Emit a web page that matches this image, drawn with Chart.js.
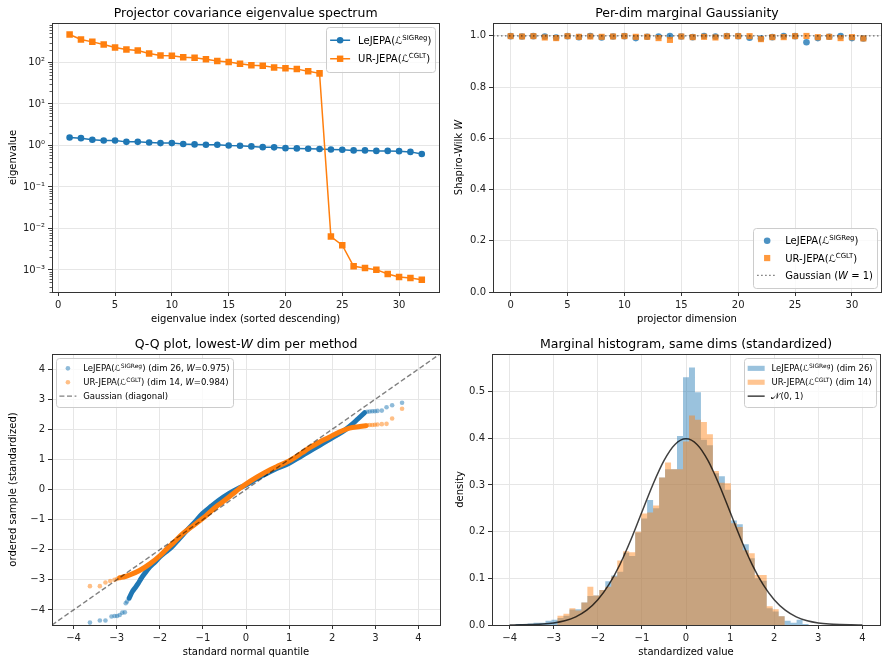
<!DOCTYPE html>
<html>
<head>
<meta charset="utf-8">
<title>Projector covariance diagnostics</title>
<script src="https://cdn.jsdelivr.net/npm/chart.js@4.4.1/dist/chart.umd.min.js"></script>
<style>
  html, body { margin:0; padding:0; background:#ffffff; }
  #fig { position:relative; width:888px; height:663px; overflow:hidden; background:#fff; }
  #fig canvas { position:absolute; }
</style>
</head>
<body>
<div id="fig">
  <canvas id="cEig" width="444" height="331" style="left:0px;top:0px;width:444px;height:331px"></canvas>
  <canvas id="cW" width="444" height="331" style="left:444px;top:0px;width:444px;height:331px"></canvas>
  <canvas id="cQQ" width="444" height="332" style="left:0px;top:331px;width:444px;height:332px"></canvas>
  <canvas id="cHist" width="444" height="332" style="left:444px;top:331px;width:444px;height:332px"></canvas>
</div>
<script>
// ================= DATA =================
// Panel 1: eigenvalue spectrum
const EIG_INDEX = [1,2,3,4,5,6,7,8,9,10,11,12,13,14,15,16,17,18,19,20,21,22,23,24,25,26,27,28,29,30,31,32];
const EIG_LEJEPA = [1.56,1.50,1.37,1.32,1.32,1.22,1.22,1.18,1.14,1.14,1.08,1.06,1.04,1.04,1.00,0.98,
                    0.95,0.91,0.90,0.86,0.85,0.83,0.82,0.80,0.79,0.76,0.76,0.74,0.74,0.73,0.70,0.62];
const EIG_URJEPA = [470,356,313,270,229,205,194,164,147,145,134,129,120,108,102,93,
                    86,83,76,72,69,61,54.5,0.0064,0.00395,0.00123,0.00112,0.00102,0.0008,0.00068,0.00064,0.00058];
const EIG_X_TICKS = [0,5,10,15,20,25,30];
const EIG_Y_TICKS = [1e-3,1e-2,1e-1,1,10,100];
const EIG_Y_LABELS = ['10\u207B\u00B3','10\u207B\u00B2','10\u207B\u00B9','10\u2070','10\u00B9','10\u00B2'];

// Panel 2: per-dim Shapiro-Wilk W
const DIMS = [0,1,2,3,4,5,6,7,8,9,10,11,12,13,14,15,16,17,18,19,20,21,22,23,24,25,26,27,28,29,30,31];
const W_LEJEPA = [0.9987,0.9974,0.9987,0.9974,0.9935,0.9987,0.9948,0.9995,0.9935,0.9974,0.9987,0.9910,0.9961,0.9974,0.9995,0.9974,
                  0.9948,0.9995,0.9974,0.9987,0.9987,0.9923,0.9897,0.9948,0.9995,0.9987,0.9750,0.9910,0.9961,0.9987,0.9910,0.9897];
const W_URJEPA = [0.9987,0.9974,0.9987,0.9935,0.9910,0.9987,0.9961,0.9974,0.9961,0.9974,0.9987,0.9961,0.9961,0.9910,0.9840,0.9974,
                  0.9948,0.9961,0.9935,0.9987,0.9987,0.9987,0.9870,0.9948,0.9948,0.9987,0.9995,0.9948,0.9961,0.9910,0.9948,0.9897];
const W_REF_X = [-1.55, 32.55];
const W_REF_Y = [1, 1];
const DIM_X_TICKS = [0,5,10,15,20,25,30];
const W_Y_TICKS = [0,0.2,0.4,0.6,0.8,1.0];

// Panel 3: Q-Q plot (theoretical quantile, ordered sample)
const QQ_LE_TAIL_Q = [-3.62,-3.39,-3.26,-3.12,-3.05,-2.99,-2.93,-2.87,-2.81,-2.79,-2.76,2.81,2.87,2.93,2.99,3.05,3.15,3.26,3.39,3.62];
const QQ_LE_TAIL_S = [-4.42,-4.35,-4.35,-4.22,-4.20,-4.20,-4.17,-4.09,-4.08,-3.78,-3.72,2.58,2.59,2.60,2.60,2.61,2.62,2.73,2.80,2.88];
const QQ_LE_BODY_Q = [-2.71,-2.64,-2.58,-2.50,-2.43,-2.35,-2.23,-2.12,-2.00,-1.85,-1.71,-1.55,-1.40,-1.20,-1.01,-0.80,-0.63,
                      -0.40,-0.16,0.00,0.20,0.38,0.70,1.00,1.25,1.46,1.70,1.92,2.10,2.30,2.45,2.60,2.75];
const QQ_LE_BODY_S = [-3.61,-3.40,-3.28,-3.12,-2.95,-2.79,-2.57,-2.42,-2.24,-2.06,-1.89,-1.64,-1.40,-1.10,-0.80,-0.55,-0.36,
                      -0.14,0.05,0.15,0.32,0.46,0.69,0.87,1.08,1.26,1.46,1.65,1.80,1.98,2.15,2.35,2.55];
const QQ_UR_TAIL_Q = [-3.62,-3.39,-3.26,-3.15,-3.05,-2.99,2.81,2.87,2.93,2.99,3.05,3.15,3.26,3.39,3.62];
const QQ_UR_TAIL_S = [-3.21,-3.21,-3.09,-3.04,-3.00,-2.97,2.13,2.14,2.14,2.15,2.16,2.17,2.18,2.36,2.68];
const QQ_UR_BODY_Q = [-2.93,-2.80,-2.70,-2.47,-2.23,-2.00,-1.85,-1.69,-1.46,-1.30,-1.15,-0.92,-0.70,-0.53,-0.30,-0.15,
                      0.10,0.38,0.70,1.00,1.30,1.46,1.70,1.92,2.18,2.40,2.64,2.78];
const QQ_UR_BODY_S = [-2.93,-2.89,-2.84,-2.69,-2.47,-2.20,-1.99,-1.78,-1.46,-1.28,-1.12,-0.86,-0.58,-0.40,-0.14,0.03,
                      0.28,0.52,0.75,0.95,1.22,1.37,1.57,1.73,1.92,2.04,2.09,2.12];
const QQ_DIAG = [-4.5, 4.5];
const QQ_TICKS = [-4,-3,-2,-1,0,1,2,3,4];

// Panel 4: marginal histograms (bin centers, densities)
const HIST_CENTERS = [-3.932,-3.797,-3.661,-3.525,-3.390,-3.254,-3.119,-2.983,-2.847,-2.712,-2.576,-2.441,-2.305,-2.169,-2.034,-1.898,
                      -1.763,-1.627,-1.492,-1.356,-1.220,-1.085,-0.949,-0.814,-0.678,-0.542,-0.407,-0.271,-0.136,0.000,0.136,0.271,
                      0.407,0.542,0.678,0.814,0.949,1.085,1.220,1.356,1.492,1.627,1.763,1.898,2.034,2.169,2.305,2.441,2.576,2.712,2.847];
const HIST_LEJEPA = [0,0.002,0.002,0.003,0.005,0.005,0.009,0.011,0.015,0.020,0.033,0.034,0.048,0.062,0.063,0.075,
                     0.094,0.106,0.114,0.155,0.148,0.198,0.228,0.268,0.250,0.316,0.334,0.334,0.405,0.531,0.552,0.499,
                     0.397,0.385,0.325,0.319,0.290,0.224,0.216,0.173,0.143,0.100,0.095,0.036,0.029,0.019,0.009,0.005,0.011,0.002,0];
const HIST_URJEPA = [0,0,0,0,0,0,0,0,0.020,0.024,0.036,0.031,0.048,0.082,0.063,0.075,
                     0.082,0.104,0.138,0.158,0.156,0.200,0.239,0.241,0.256,0.316,0.348,0.334,0.334,0.393,0.449,0.440,
                     0.435,0.409,0.330,0.305,0.304,0.218,0.210,0.160,0.154,0.107,0.107,0.040,0.034,0.019,0,0,0,0,0];
const PDF_X = [-4,-3.75,-3.5,-3.25,-3,-2.75,-2.5,-2.25,-2,-1.75,-1.5,-1.25,-1,-0.75,-0.5,-0.25,0,
               0.25,0.5,0.75,1,1.25,1.5,1.75,2,2.25,2.5,2.75,3,3.25,3.5,3.75,4];
const PDF_Y = [0.0001,0.0004,0.0009,0.0020,0.0044,0.0091,0.0175,0.0317,0.0540,0.0863,0.1295,0.1826,0.2420,0.3011,0.3521,0.3867,0.3989,
               0.3867,0.3521,0.3011,0.2420,0.1826,0.1295,0.0863,0.0540,0.0317,0.0175,0.0091,0.0044,0.0020,0.0009,0.0004,0.0001];
const HIST_X_TICKS = [-4,-3,-2,-1,0,1,2,3,4];
const HIST_Y_TICKS = [0,0.1,0.2,0.3,0.4,0.5];

// ================= HELPERS =================
const FAMILY = "'DejaVu Sans', 'Liberation Sans', sans-serif";
const BLUE = '#1f77b4', ORANGE = '#ff7f0e';
Chart.defaults.font.family = FAMILY;
function rgba(hex, a) { const n = parseInt(hex.slice(1), 16); return 'rgba(' + (n >> 16) + ',' + ((n >> 8) & 255) + ',' + (n & 255) + ',' + a + ')'; }
const pts = (xs, ys) => xs.map((x, i) => ({ x: x, y: ys[i] }));
const fmtInt = v => (v < 0 ? '\u2212' + Math.abs(v) : String(v));
const fmt1 = v => v.toFixed(1);

function axis(isX, min, max, tickVals, fmt, fixed) {
  return {
    type: 'linear', min: min, max: max, offset: false,
    afterBuildTicks: s => { s.ticks = tickVals.map(v => ({ value: v })); },
    afterFit: s => { if (isX) s.height = fixed; else s.width = fixed; },
    border: { display: false },
    grid: { color: '#e6e6e6', lineWidth: 1, tickLength: 4, tickColor: '#333', tickWidth: 1, offset: false, drawTicks: true },
    ticks: { color: '#222', font: { family: FAMILY, size: 10 }, padding: 3, maxRotation: 0, minRotation: 0, autoSkip: false,
             callback: v => fmt(v) },
    title: { display: false }
  };
}
function baseOptions(scales, pad) {
  return {
    responsive: false, maintainAspectRatio: false, animation: false, devicePixelRatio: 1, events: [],
    layout: { padding: pad },
    plugins: { legend: { display: false }, tooltip: { enabled: false }, title: { display: false } },
    scales: scales
  };
}

function setFont(ctx, size, italic) { ctx.font = (italic ? 'italic ' : '') + size + 'px ' + FAMILY; }
function richMeasure(ctx, parts, size) {
  let w = 0;
  for (const p of parts) { setFont(ctx, p[1] === 's' ? size * 0.7 : size, p[1] === 'i'); w += ctx.measureText(p[0]).width; }
  return w;
}
function richDraw(ctx, parts, x, y, size, align) {
  const w = richMeasure(ctx, parts, size);
  let cx = align === 'center' ? x - w / 2 : (align === 'right' ? x - w : x);
  ctx.textAlign = 'left'; ctx.textBaseline = 'alphabetic';
  for (const p of parts) {
    const sup = p[1] === 's';
    setFont(ctx, sup ? size * 0.7 : size, p[1] === 'i');
    ctx.fillText(p[0], cx, y + (sup ? -size * 0.4 : 0));
    cx += ctx.measureText(p[0]).width;
  }
}
function drawMarker(ctx, shape, x, y, r, color) {
  ctx.fillStyle = color; ctx.beginPath();
  if (shape === 'circle') ctx.arc(x, y, r, 0, Math.PI * 2); else ctx.rect(x - r, y - r, 2 * r, 2 * r);
  ctx.fill();
}
function drawLegend(ctx, ca, L) {
  const f = L.size;
  let tw = 0;
  for (const it of L.items) tw = Math.max(tw, richMeasure(ctx, it.parts, f));
  const w = L.pad * 2 + L.handle + L.gap + tw;
  const h = L.pad * 2 + L.rowH * L.items.length;
  const x = L.loc.indexOf('right') >= 0 ? ca.right - L.axPad - w : ca.left + L.axPad;
  const y = L.loc.indexOf('upper') >= 0 ? ca.top + L.axPad : ca.bottom - L.axPad - h;
  ctx.beginPath();
  const bx = Math.round(x) + 0.5, by = Math.round(y) + 0.5, bw = Math.round(w), bh = Math.round(h);
  if (ctx.roundRect) ctx.roundRect(bx, by, bw, bh, 3); else ctx.rect(bx, by, bw, bh);
  ctx.fillStyle = 'rgba(255,255,255,0.8)'; ctx.fill();
  ctx.strokeStyle = '#cccccc'; ctx.lineWidth = 1; ctx.stroke();
  L.items.forEach((it, i) => {
    const cy = y + L.pad + L.rowH * (i + 0.5);
    const hx0 = x + L.pad, hx1 = hx0 + L.handle, hc = (hx0 + hx1) / 2;
    if (it.patch) { ctx.fillStyle = it.patch; ctx.fillRect(hx0, cy - 0.3 * f, L.handle, 0.6 * f); }
    if (it.line) {
      ctx.save(); ctx.strokeStyle = it.line.color; ctx.lineWidth = it.line.width; ctx.setLineDash(it.line.dash || []);
      ctx.beginPath(); ctx.moveTo(hx0, cy); ctx.lineTo(hx1, cy); ctx.stroke(); ctx.restore();
    }
    if (it.marker) drawMarker(ctx, it.marker.shape, hc, cy, it.marker.r, it.marker.color);
    ctx.fillStyle = '#000';
    richDraw(ctx, it.parts, hx1 + L.gap, cy + 0.36 * f, f, 'left');
  });
}

const PANELS = {};
const mplDecor = {
  id: 'mplDecor',
  afterDatasetsDraw(chart) {
    const cfg = PANELS[chart.canvas.id]; if (!cfg) return;
    const ctx = chart.ctx, ca = chart.chartArea;
    ctx.save();
    if (cfg.minorLog) {
      const ys = chart.scales.y;
      ctx.strokeStyle = '#333'; ctx.lineWidth = 0.8;
      for (let e = -4; e <= 2; e++) for (let k = 2; k <= 9; k++) {
        const v = k * Math.pow(10, e);
        if (v < ys.min || v > ys.max) continue;
        const py = Math.round(ys.getPixelForValue(v)) + 0.5;
        ctx.beginPath(); ctx.moveTo(ca.left - 2.5, py); ctx.lineTo(ca.left, py); ctx.stroke();
      }
    }
    // spines
    ctx.strokeStyle = '#333'; ctx.lineWidth = 1;
    const l = Math.floor(ca.left) + 0.5, t = Math.floor(ca.top) + 0.5, r = Math.floor(ca.right) + 0.5, b = Math.floor(ca.bottom) + 0.5;
    ctx.strokeRect(l, t, r - l, b - t);
    if (cfg.legend) drawLegend(ctx, ca, cfg.legend);
    ctx.fillStyle = '#000';
    richDraw(ctx, cfg.title, (ca.left + ca.right) / 2, ca.top - 6, 12.5, 'center');
    richDraw(ctx, cfg.xlabel, (ca.left + ca.right) / 2, ca.bottom + 30, 10, 'center');
    ctx.save();
    ctx.translate(cfg.ylabelX, (ca.top + ca.bottom) / 2); ctx.rotate(-Math.PI / 2);
    richDraw(ctx, cfg.ylabel, 0, 0, 10, 'center');
    ctx.restore();
    ctx.restore();
  }
};

const SUP_LE = [['LeJEPA(', ''], ['\u2112', ''], ['SIGReg', 's'], [')', '']];
const SUP_UR = [['UR-JEPA(', ''], ['\u2112', ''], ['CGLT', 's'], [')', '']];

// ================= PANEL 1 =================
PANELS.cEig = {
  title: [['Projector covariance eigenvalue spectrum', '']],
  xlabel: [['eigenvalue index (sorted descending)', '']],
  ylabel: [['eigenvalue', '']],
  ylabelX: 15.6, minorLog: true,
  legend: { loc: 'upper right', size: 10, pad: 4, rowH: 18.5, handle: 20, gap: 8, axPad: 4, items: [
    { parts: SUP_LE, line: { color: BLUE, width: 1.5 }, marker: { shape: 'circle', r: 3.3, color: BLUE } },
    { parts: SUP_UR, line: { color: ORANGE, width: 1.5 }, marker: { shape: 'square', r: 3.2, color: ORANGE } }
  ] }
};
const eigY = {
  type: 'logarithmic', min: 2.95e-4, max: 891,
  afterBuildTicks: s => { s.ticks = EIG_Y_TICKS.map(v => ({ value: v })); },
  afterFit: s => { s.width = 52; },
  border: { display: false },
  grid: { color: '#e6e6e6', lineWidth: 1, tickLength: 4, tickColor: '#333', tickWidth: 1, drawTicks: true },
  ticks: { color: '#222', font: { family: FAMILY, size: 10 }, padding: 3, autoSkip: false,
           callback: v => EIG_Y_LABELS[EIG_Y_TICKS.findIndex(t => Math.abs(Math.log10(t) - Math.log10(v)) < 1e-6)] },
  title: { display: false }
};
new Chart(document.getElementById('cEig'), {
  type: 'line',
  data: { datasets: [
    { label: 'UR-JEPA', data: pts(EIG_INDEX, EIG_URJEPA), borderColor: ORANGE, backgroundColor: ORANGE, borderWidth: 1.5,
      pointStyle: 'rect', pointRadius: 4.6, pointBorderWidth: 0, tension: 0, order: 1 },
    { label: 'LeJEPA', data: pts(EIG_INDEX, EIG_LEJEPA), borderColor: BLUE, backgroundColor: BLUE, borderWidth: 1.5,
      pointStyle: 'circle', pointRadius: 3.3, pointBorderWidth: 0, tension: 0, order: 2 }
  ] },
  options: baseOptions({ x: axis(true, -0.55, 33.55, EIG_X_TICKS, fmtInt, 39), y: eigY }, { top: 23, right: 3, left: 0, bottom: 0 }),
  plugins: [mplDecor]
});

// ================= PANEL 2 =================
PANELS.cW = {
  title: [['Per-dim marginal Gaussianity', '']],
  xlabel: [['projector dimension', '']],
  ylabel: [['Shapiro-Wilk ', ''], ['W', 'i']],
  ylabelX: 17.6,
  legend: { loc: 'lower right', size: 10, pad: 4, rowH: 17.3, handle: 20, gap: 8, axPad: 4, items: [
    { parts: SUP_LE, marker: { shape: 'circle', r: 3.3, color: rgba(BLUE, 0.8) } },
    { parts: SUP_UR, marker: { shape: 'square', r: 3.1, color: rgba(ORANGE, 0.8) } },
    { parts: [['Gaussian (', ''], ['W', 'i'], [' = 1)', '']], line: { color: 'rgba(0,0,0,0.55)', width: 1.2, dash: [1.5, 2.5] } }
  ] }
};
new Chart(document.getElementById('cW'), {
  type: 'scatter',
  data: { datasets: [
    { label: 'Gaussian (W = 1)', data: pts(W_REF_X, W_REF_Y), showLine: true, borderColor: 'rgba(0,0,0,0.55)', borderWidth: 1.2,
      borderDash: [1.5, 2.5], pointRadius: 0, order: 0 },
    { label: 'UR-JEPA', data: pts(DIMS, W_URJEPA), pointStyle: 'rect', pointRadius: 4.3, pointBorderWidth: 0,
      backgroundColor: rgba(ORANGE, 0.8), borderColor: rgba(ORANGE, 0.8), order: 1 },
    { label: 'LeJEPA', data: pts(DIMS, W_LEJEPA), pointStyle: 'circle', pointRadius: 3.3, pointBorderWidth: 0,
      backgroundColor: rgba(BLUE, 0.8), borderColor: rgba(BLUE, 0.8), order: 2 }
  ] },
  options: baseOptions({ x: axis(true, -1.55, 32.55, DIM_X_TICKS, fmtInt, 39), y: axis(false, 0, 1.05, W_Y_TICKS, fmt1, 49) },
                       { top: 23, right: 7, left: 0, bottom: 0 }),
  plugins: [mplDecor]
});

// ================= PANEL 3 =================
PANELS.cQQ = {
  title: [['Q-Q plot, lowest-', ''], ['W', 'i'], [' dim per method', '']],
  xlabel: [['standard normal quantile', '']],
  ylabel: [['ordered sample (standardized)', '']],
  ylabelX: 15.6,
  legend: { loc: 'upper left', size: 8.5, pad: 3.4, rowH: 13.9, handle: 17, gap: 6.8, axPad: 4, items: [
    { parts: SUP_LE.concat([[' (dim 26, ', ''], ['W', 'i'], ['=0.975)', '']]), marker: { shape: 'circle', r: 2.3, color: rgba(BLUE, 0.5) } },
    { parts: SUP_UR.concat([[' (dim 14, ', ''], ['W', 'i'], ['=0.984)', '']]), marker: { shape: 'circle', r: 2.3, color: rgba(ORANGE, 0.5) } },
    { parts: [['Gaussian (diagonal)', '']], line: { color: 'rgba(0,0,0,0.5)', width: 1.4, dash: [5, 2.6] } }
  ] }
};
new Chart(document.getElementById('cQQ'), {
  type: 'scatter',
  data: { datasets: [
    { label: 'Gaussian (diagonal)', data: pts(QQ_DIAG, QQ_DIAG), showLine: true, borderColor: 'rgba(0,0,0,0.5)', borderWidth: 1.4,
      borderDash: [5, 2.6], pointRadius: 0, order: 0 },
    { label: 'UR-JEPA tail', data: pts(QQ_UR_TAIL_Q, QQ_UR_TAIL_S), pointRadius: 2.3, pointBorderWidth: 0,
      backgroundColor: rgba(ORANGE, 0.5), borderColor: rgba(ORANGE, 0.5), order: 1 },
    { label: 'UR-JEPA body', data: pts(QQ_UR_BODY_Q, QQ_UR_BODY_S), showLine: true, pointRadius: 0, borderColor: ORANGE,
      borderWidth: 5, borderCapStyle: 'round', borderJoinStyle: 'round', cubicInterpolationMode: 'monotone', order: 2 },
    { label: 'LeJEPA tail', data: pts(QQ_LE_TAIL_Q, QQ_LE_TAIL_S), pointRadius: 2.3, pointBorderWidth: 0,
      backgroundColor: rgba(BLUE, 0.5), borderColor: rgba(BLUE, 0.5), order: 3 },
    { label: 'LeJEPA body', data: pts(QQ_LE_BODY_Q, QQ_LE_BODY_S), showLine: true, pointRadius: 0, borderColor: BLUE,
      borderWidth: 5, borderCapStyle: 'round', borderJoinStyle: 'round', cubicInterpolationMode: 'monotone', order: 4 }
  ] },
  options: baseOptions({ x: axis(true, -4.5, 4.5, QQ_TICKS, fmtInt, 38), y: axis(false, -4.5, 4.5, QQ_TICKS, fmtInt, 52) },
                       { top: 23, right: 3, left: 0, bottom: 0 }),
  plugins: [mplDecor]
});

// ================= PANEL 4 =================
PANELS.cHist = {
  title: [['Marginal histogram, same dims (standardized)', '']],
  xlabel: [['standardized value', '']],
  ylabel: [['density', '']],
  ylabelX: 18.6,
  legend: { loc: 'upper right', size: 8.5, pad: 3.4, rowH: 13.9, handle: 17, gap: 6.8, axPad: 4, items: [
    { parts: SUP_LE.concat([[' (dim 26)', '']]), patch: rgba(BLUE, 0.45) },
    { parts: SUP_UR.concat([[' (dim 14)', '']]), patch: rgba(ORANGE, 0.45) },
    { parts: [['\uD835\uDCA9', ''], ['(0, 1)', '']], line: { color: 'rgba(0,0,0,0.75)', width: 1.5 } }
  ] }
};
new Chart(document.getElementById('cHist'), {
  type: 'line',
  data: { datasets: [
    { label: 'N(0,1)', data: pts(PDF_X, PDF_Y), borderColor: 'rgba(0,0,0,0.75)', borderWidth: 1.5, pointRadius: 0,
      cubicInterpolationMode: 'monotone', fill: false, order: 0 },
    { label: 'UR-JEPA (dim 14)', data: pts(HIST_CENTERS, HIST_URJEPA), stepped: 'middle', fill: 'origin',
      backgroundColor: rgba(ORANGE, 0.45), borderColor: 'rgba(0,0,0,0)', borderWidth: 0, pointRadius: 0, order: 1 },
    { label: 'LeJEPA (dim 26)', data: pts(HIST_CENTERS, HIST_LEJEPA), stepped: 'middle', fill: 'origin',
      backgroundColor: rgba(BLUE, 0.45), borderColor: 'rgba(0,0,0,0)', borderWidth: 0, pointRadius: 0, order: 2 }
  ] },
  options: Object.assign(baseOptions({ x: axis(true, -4.4, 4.4, HIST_X_TICKS, fmtInt, 38), y: axis(false, 0, 0.5807, HIST_Y_TICKS, fmt1, 48) },
                       { top: 23, right: 8, left: 0, bottom: 0 }), { plugins: { legend: { display: false }, tooltip: { enabled: false }, filler: { propagate: false, drawTime: 'beforeDatasetDraw' } } }),
  plugins: [mplDecor]
});
</script>
</body>
</html>
